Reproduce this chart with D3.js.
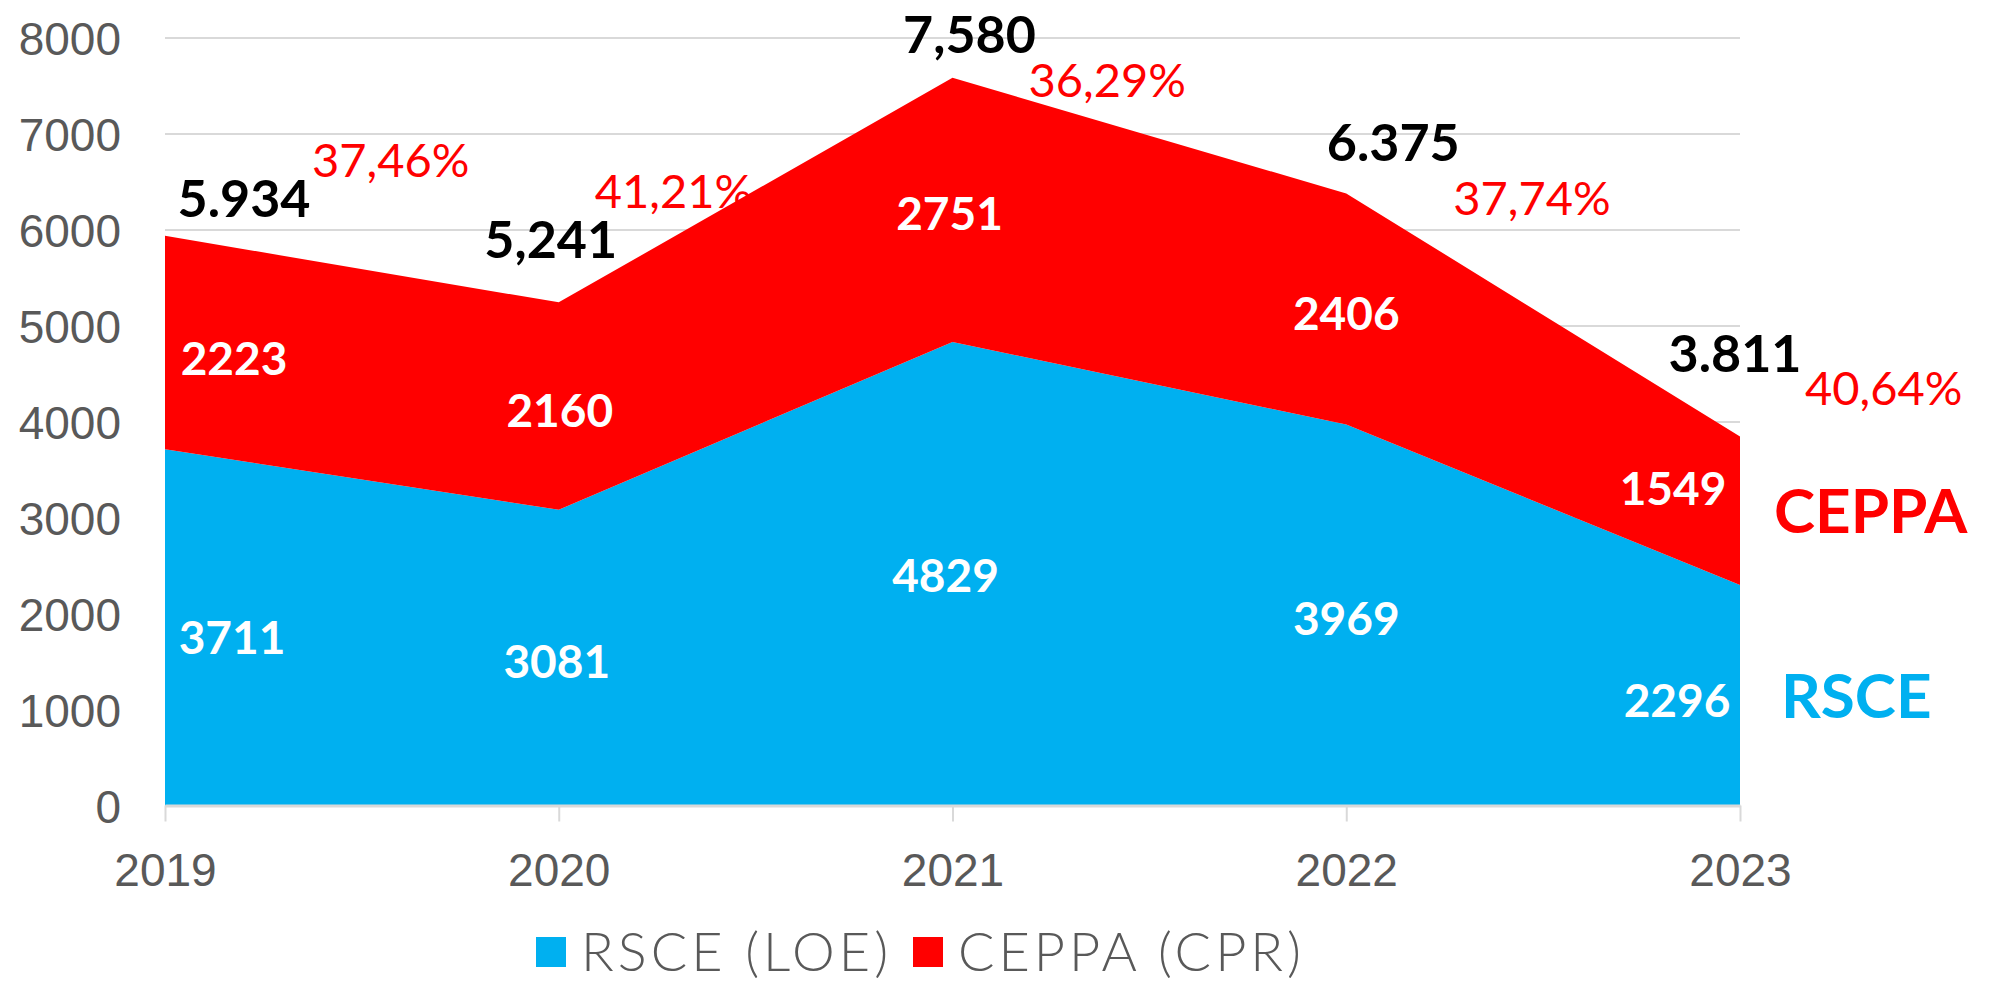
<!DOCTYPE html>
<html>
<head>
<meta charset="utf-8">
<script src="https://cdn.jsdelivr.net/npm/d3@7/dist/d3.min.js"></script>
<style>
  body { margin: 0; background: #fff; }
  svg { display: block; font-family: Lato, 'Open Sans', sans-serif; }
</style>
</head>
<body>
<svg id="chart" width="1995" height="983"></svg>
<script>
// data
const years = ['2019', '2020', '2021', '2022', '2023'];
const rsce = [3711, 3081, 4829, 3969, 2296];
const ceppa = [2223, 2160, 2751, 2406, 1549];
const totalLabels = ['5.934', '5,241', '7,580', '6.375', '3.811'];
const pctLabels = ['37,46%', '41,21%', '36,29%', '37,74%', '40,64%'];
const yTicks = [0, 1000, 2000, 3000, 4000, 5000, 6000, 7000, 8000];
const seriesNames = ['RSCE', 'CEPPA'];
const legendNames = ['RSCE (LOE)', 'CEPPA (CPR)'];

// label nudges (pixels), one per year
const totalOffsets = [[79, -19], [-8, -44], [17, -25], [47, -33], [-5, -64]];
const pctOffsets = [[147, -59], [36, -94], [76, 19], [107, 21], [65, -31]];
const ceppaOffsets = [[69, 16], [1, 4], [-3, 4], [0, 4], [-67, -22]];
const rsceOffsets = [[67, 10], [-2, 4], [-7, 2], [0, 3], [-63, 5]];

const colors = { RSCE: '#00b0f0', CEPPA: '#ff0000' };
const svg = d3.select('#chart');

const x = d3.scalePoint().domain(years).range([165, 1740]);
const y = d3.scaleLinear().domain([0, 8000]).range([805.5, 37.5]);

const rows = years.map((yr, i) => ({ year: yr, RSCE: rsce[i], CEPPA: ceppa[i] }));
const stacked = d3.stack().keys(seriesNames)(rows);

// grid + y labels
const yAxis = svg.append('g')
  .attr('transform', 'translate(165,0)')
  .call(d3.axisLeft(y).tickValues(yTicks).tickFormat(d3.format('d'))
    .tickSize(-(1740 - 165)).tickPadding(44));
yAxis.select('.domain').remove();
yAxis.selectAll('.tick line').attr('stroke', '#d9d9d9').attr('stroke-width', 2);
yAxis.selectAll('.tick text')
  .attr('fill', '#595959')
  .attr('font-size', 46)
  .attr('font-weight', 300)
  .attr('dy', '0.36em');

// areas
const area = d3.area()
  .x(d => x(d.data.year))
  .y0(d => y(d[0]))
  .y1(d => y(d[1]));

svg.append('g').selectAll('path')
  .data(stacked)
  .join('path')
  .attr('d', area)
  .attr('fill', d => colors[d.key]);

// x axis
const xAxis = svg.append('g')
  .attr('transform', 'translate(0,' + y(0) + ')')
  .call(d3.axisBottom(x).tickSize(16).tickSizeOuter(0));
xAxis.select('.domain').attr('stroke', '#d9d9d9').attr('stroke-width', 3);
xAxis.selectAll('.tick line').attr('stroke', '#d9d9d9').attr('stroke-width', 2);
xAxis.selectAll('.tick text')
  .attr('fill', '#595959')
  .attr('font-size', 46)
  .attr('font-weight', 300)
  .attr('y', 80)
  .attr('dy', null);

// values inside the bands
const mid = d => (y(d[0]) + y(d[1])) / 2;
const bandOffsets = { RSCE: rsceOffsets, CEPPA: ceppaOffsets };
stacked.forEach(s => {
  svg.append('g').selectAll('text')
    .data(s)
    .join('text')
    .attr('x', (d, i) => x(d.data.year) + bandOffsets[s.key][i][0])
    .attr('y', (d, i) => mid(d) + bandOffsets[s.key][i][1])
    .attr('dy', '0.36em')
    .attr('text-anchor', 'middle')
    .attr('fill', '#fff')
    .attr('font-size', 46)
    .attr('font-weight', 700)
    .text(d => d[1] - d[0]);
});

// totals and shares above the top
const topLayer = stacked[stacked.length - 1];
svg.append('g').selectAll('text')
  .data(topLayer)
  .join('text')
  .attr('x', (d, i) => x(d.data.year) + totalOffsets[i][0])
  .attr('y', (d, i) => y(d[1]) + totalOffsets[i][1])
  .attr('text-anchor', 'middle')
  .attr('fill', '#000')
  .attr('font-size', 52)
  .attr('font-weight', 700)
  .text((d, i) => totalLabels[i]);

svg.append('g').selectAll('text')
  .data(topLayer)
  .join('text')
  .attr('x', (d, i) => x(d.data.year) + pctOffsets[i][0])
  .attr('y', (d, i) => y(d[1]) + pctOffsets[i][1])
  .attr('fill', '#ff0000')
  .attr('font-size', 47)
  .text((d, i) => pctLabels[i]);

// series names at the right end
svg.append('g').selectAll('text')
  .data(stacked)
  .join('text')
  .attr('x', d => x(years[years.length - 1]) + (d.key === 'RSCE' ? 41 : 34))
  .attr('y', d => mid(d[d.length - 1]))
  .attr('dy', '0.36em')
  .attr('fill', d => colors[d.key])
  .attr('font-size', 62)
  .attr('font-weight', 700)
  .text(d => d.key);

// legend
const legendX = [536, 913];
const legend = svg.append('g').selectAll('g')
  .data(seriesNames)
  .join('g')
  .attr('transform', (d, i) => 'translate(' + legendX[i] + ',937)');
legend.append('rect')
  .attr('width', 30).attr('height', 30)
  .attr('fill', d => colors[d]);
legend.append('text')
  .attr('x', 45).attr('y', 34)
  .attr('fill', '#595959')
  .attr('font-size', 54)
  .attr('font-weight', 300)
  .attr('letter-spacing', 4)
  .text((d, i) => legendNames[i]);
</script>
</body>
</html>
